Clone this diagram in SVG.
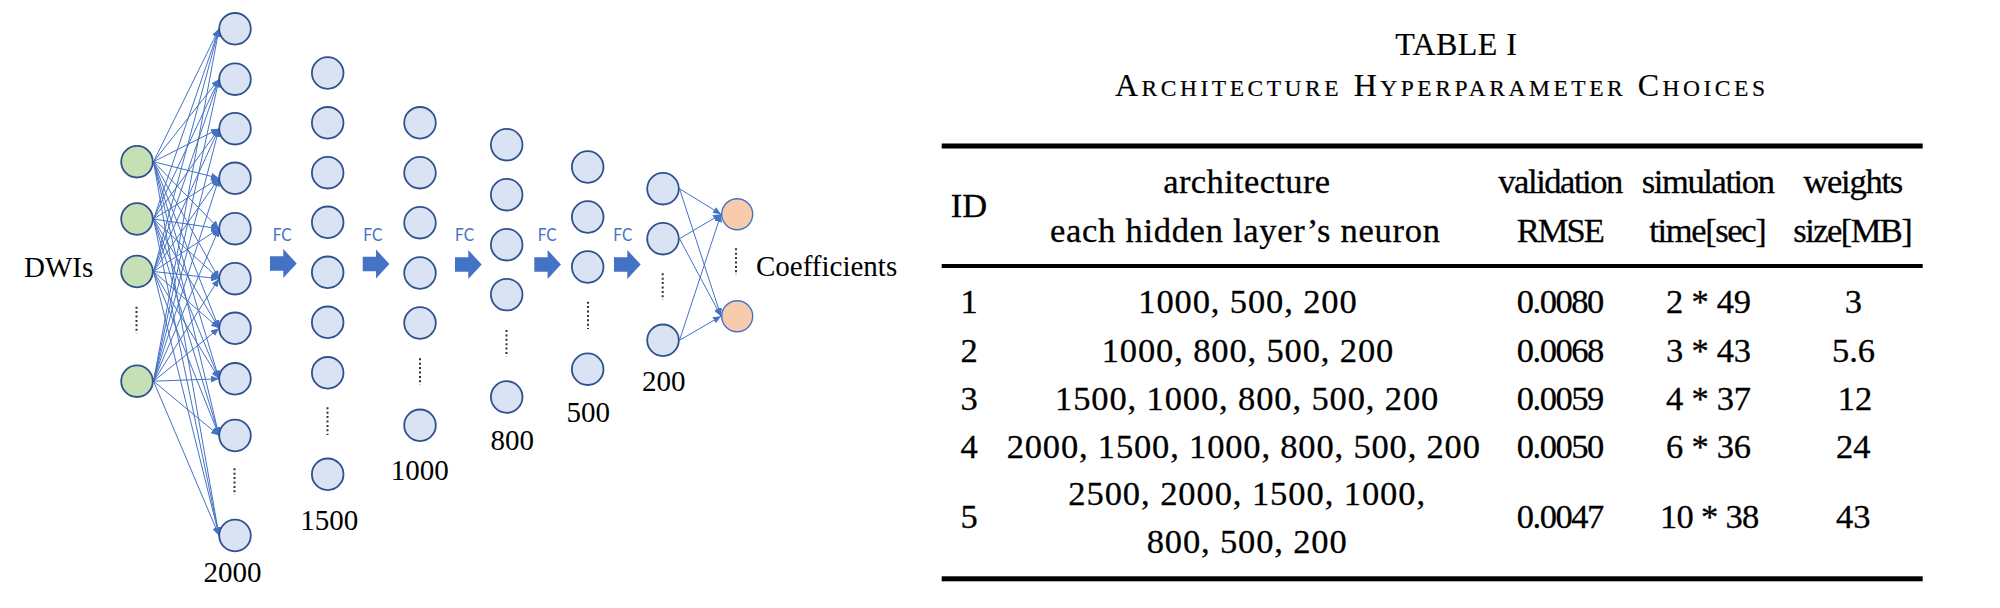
<svg xmlns="http://www.w3.org/2000/svg" width="2000" height="608" viewBox="0 0 2000 608">
<style>
.n{fill:#DAE3F3;stroke:#2F528F;stroke-width:1.8}
.g{fill:#C5E0B4;stroke:#2F528F;stroke-width:1.8}
.o{fill:#F8CBAD;stroke:#4472C4;stroke-width:1.4}
.c{stroke:#4472C4;stroke-width:1;fill:none;marker-end:url(#ah)}
.d{stroke:#333;stroke-width:2;stroke-dasharray:2 2.4;fill:none}
.lbl{font-family:"Liberation Serif","Times New Roman",serif;font-size:29px;fill:#000}
.num{text-anchor:middle}
.fc{font-family:Lato,"Open Sans",sans-serif;font-size:18px;fill:#4472C4}
.t{font-family:"Liberation Serif","Times New Roman",serif;font-size:34.5px;fill:#000;stroke:#000;stroke-width:0.3;text-anchor:middle}
.rule{fill:#000}
</style>
<defs>
<marker id="ah" viewBox="0 0 8 7" refX="8" refY="3.5" markerWidth="8" markerHeight="7" markerUnits="userSpaceOnUse" orient="auto"><path d="M0,0 L8,3.5 L0,7 Z" fill="#4472C4"/></marker>
<path id="blk" d="M0 7.3H13.3V0L26.7 14.5L13.3 29V21.7H0Z" fill="#4472C4"/>
</defs>
<rect width="2000" height="608" fill="#fff"/>

<g id="connectors">
<path class="c" d="M153.5 161.7L219 28.8"/><path class="c" d="M153.5 161.7L219 79.2"/><path class="c" d="M153.5 161.7L219 128.7"/><path class="c" d="M153.5 161.7L219 178.3"/><path class="c" d="M153.5 161.7L219 228.7"/><path class="c" d="M153.5 161.7L219 278.7"/><path class="c" d="M153.5 161.7L219 328.3"/><path class="c" d="M153.5 161.7L219 378.8"/><path class="c" d="M153.5 161.7L219 435.5"/><path class="c" d="M153.5 161.7L219 535.5"/>
<path class="c" d="M153.5 219L219 28.8"/><path class="c" d="M153.5 219L219 79.2"/><path class="c" d="M153.5 219L219 128.7"/><path class="c" d="M153.5 219L219 178.3"/><path class="c" d="M153.5 219L219 228.7"/><path class="c" d="M153.5 219L219 278.7"/><path class="c" d="M153.5 219L219 328.3"/><path class="c" d="M153.5 219L219 378.8"/><path class="c" d="M153.5 219L219 435.5"/><path class="c" d="M153.5 219L219 535.5"/>
<path class="c" d="M153.5 271.5L219 28.8"/><path class="c" d="M153.5 271.5L219 79.2"/><path class="c" d="M153.5 271.5L219 128.7"/><path class="c" d="M153.5 271.5L219 178.3"/><path class="c" d="M153.5 271.5L219 228.7"/><path class="c" d="M153.5 271.5L219 278.7"/><path class="c" d="M153.5 271.5L219 328.3"/><path class="c" d="M153.5 271.5L219 378.8"/><path class="c" d="M153.5 271.5L219 435.5"/><path class="c" d="M153.5 271.5L219 535.5"/>
<path class="c" d="M153.5 381.2L219 28.8"/><path class="c" d="M153.5 381.2L219 79.2"/><path class="c" d="M153.5 381.2L219 128.7"/><path class="c" d="M153.5 381.2L219 178.3"/><path class="c" d="M153.5 381.2L219 228.7"/><path class="c" d="M153.5 381.2L219 278.7"/><path class="c" d="M153.5 381.2L219 328.3"/><path class="c" d="M153.5 381.2L219 378.8"/><path class="c" d="M153.5 381.2L219 435.5"/><path class="c" d="M153.5 381.2L219 535.5"/>
<path class="c" d="M679.5 188.7L721 214.2"/><path class="c" d="M679.5 188.7L721 316.2"/>
<path class="c" d="M679.5 238.7L721 214.2"/><path class="c" d="M679.5 238.7L721 316.2"/>
<path class="c" d="M679.5 340.3L721 214.2"/><path class="c" d="M679.5 340.3L721 316.2"/>
</g>

<g id="fc-arrows">
<use href="#blk" x="270" y="249"/>
<use href="#blk" x="362.7" y="249.5"/>
<use href="#blk" x="455" y="250"/>
<use href="#blk" x="534.3" y="250"/>
<use href="#blk" x="614" y="250"/>
<text class="fc" x="272.7" y="240.5" textLength="19" lengthAdjust="spacingAndGlyphs">FC</text>
<text class="fc" x="363.3" y="240.5" textLength="19" lengthAdjust="spacingAndGlyphs">FC</text>
<text class="fc" x="455" y="240.5" textLength="19" lengthAdjust="spacingAndGlyphs">FC</text>
<text class="fc" x="537.7" y="240.5" textLength="19" lengthAdjust="spacingAndGlyphs">FC</text>
<text class="fc" x="613.3" y="240.5" textLength="19" lengthAdjust="spacingAndGlyphs">FC</text>
</g>

<g id="input-layer">
<g id="in-1"><circle class="g" cx="137" cy="161.7" r="15.8"/></g>
<g id="in-2"><circle class="g" cx="137" cy="219" r="15.8"/></g>
<g id="in-3"><circle class="g" cx="137" cy="271.5" r="15.8"/></g>
<g id="in-4"><circle class="g" cx="137" cy="381.2" r="15.8"/></g>
<path class="d" d="M136.5 306.7V333.3"/>
<text class="lbl" x="24" y="276.7">DWIs</text>
</g>

<g id="layer-2000">
<g id="h1-1"><circle class="n" cx="235" cy="28.8" r="15.8"/></g>
<g id="h1-2"><circle class="n" cx="235" cy="79.2" r="15.8"/></g>
<g id="h1-3"><circle class="n" cx="235" cy="128.7" r="15.8"/></g>
<g id="h1-4"><circle class="n" cx="235" cy="178.3" r="15.8"/></g>
<g id="h1-5"><circle class="n" cx="235" cy="228.7" r="15.8"/></g>
<g id="h1-6"><circle class="n" cx="235" cy="278.7" r="15.8"/></g>
<g id="h1-7"><circle class="n" cx="235" cy="328.3" r="15.8"/></g>
<g id="h1-8"><circle class="n" cx="235" cy="378.8" r="15.8"/></g>
<g id="h1-9"><circle class="n" cx="235" cy="435.5" r="15.8"/></g>
<g id="h1-10"><circle class="n" cx="235" cy="535.5" r="15.8"/></g>
<path class="d" d="M234.5 468.3V495"/>
<text class="lbl num" x="232.5" y="581.7">2000</text>
</g>

<g id="layer-1500">
<g id="h2-1"><circle class="n" cx="327.7" cy="73" r="15.8"/></g>
<g id="h2-2"><circle class="n" cx="327.7" cy="122.8" r="15.8"/></g>
<g id="h2-3"><circle class="n" cx="327.7" cy="172.7" r="15.8"/></g>
<g id="h2-4"><circle class="n" cx="327.7" cy="222.3" r="15.8"/></g>
<g id="h2-5"><circle class="n" cx="327.7" cy="272.3" r="15.8"/></g>
<g id="h2-6"><circle class="n" cx="327.7" cy="322.3" r="15.8"/></g>
<g id="h2-7"><circle class="n" cx="327.7" cy="372.8" r="15.8"/></g>
<g id="h2-8"><circle class="n" cx="327.7" cy="474.3" r="15.8"/></g>
<path class="d" d="M327.5 407.3V435"/>
<text class="lbl num" x="329.2" y="530">1500</text>
</g>

<g id="layer-1000">
<g id="h3-1"><circle class="n" cx="420" cy="122.8" r="15.8"/></g>
<g id="h3-2"><circle class="n" cx="420" cy="172.7" r="15.8"/></g>
<g id="h3-3"><circle class="n" cx="420" cy="222.7" r="15.8"/></g>
<g id="h3-4"><circle class="n" cx="420" cy="273" r="15.8"/></g>
<g id="h3-5"><circle class="n" cx="420" cy="323" r="15.8"/></g>
<g id="h3-6"><circle class="n" cx="420" cy="425.3" r="15.8"/></g>
<path class="d" d="M420 358.3V385"/>
<text class="lbl num" x="419.8" y="480">1000</text>
</g>

<g id="layer-800">
<g id="h4-1"><circle class="n" cx="506.7" cy="144.7" r="15.8"/></g>
<g id="h4-2"><circle class="n" cx="506.7" cy="194.7" r="15.8"/></g>
<g id="h4-3"><circle class="n" cx="506.7" cy="244.7" r="15.8"/></g>
<g id="h4-4"><circle class="n" cx="506.7" cy="294.6" r="15.8"/></g>
<g id="h4-5"><circle class="n" cx="506.7" cy="397" r="15.8"/></g>
<path class="d" d="M506.5 330V356.7"/>
<text class="lbl num" x="512.2" y="450">800</text>
</g>

<g id="layer-500">
<g id="h5-1"><circle class="n" cx="587.7" cy="167" r="15.8"/></g>
<g id="h5-2"><circle class="n" cx="587.7" cy="217" r="15.8"/></g>
<g id="h5-3"><circle class="n" cx="587.7" cy="267" r="15.8"/></g>
<g id="h5-4"><circle class="n" cx="587.7" cy="369.2" r="15.8"/></g>
<path class="d" d="M588 301.7V329"/>
<text class="lbl num" x="588.3" y="421.7">500</text>
</g>

<g id="layer-200">
<g id="h6-1"><circle class="n" cx="663" cy="188.7" r="15.8"/></g>
<g id="h6-2"><circle class="n" cx="663" cy="238.7" r="15.8"/></g>
<g id="h6-3"><circle class="n" cx="663" cy="340.3" r="15.8"/></g>
<path class="d" d="M662.7 273.3V300"/>
<text class="lbl num" x="663.7" y="390.7">200</text>
</g>

<g id="output-layer">
<g id="out-1"><circle class="o" cx="737.2" cy="214.2" r="15.5"/></g>
<g id="out-2"><circle class="o" cx="737.2" cy="316.2" r="15.5"/></g>
<path class="d" d="M736 248.3V275"/>
<text class="lbl" x="756" y="276">Coefficients</text>
</g>

<g id="table">
<text class="t" x="1456" y="55" style="font-size:32px;stroke-width:0.2" textLength="121.7" lengthAdjust="spacing">TABLE I</text>
<text class="t" x="1440" y="96" style="font-size:32px;stroke-width:0.2" textLength="650" lengthAdjust="spacing">A<tspan style="font-size:23.5px">RCHITECTURE</tspan> H<tspan style="font-size:23.5px">YPERPARAMETER</tspan> C<tspan style="font-size:23.5px">HOICES</tspan></text>

<rect class="rule" x="941.7" y="143.5" width="981" height="5"/>
<rect class="rule" x="941.7" y="264" width="981" height="4"/>
<rect class="rule" x="941.7" y="576.3" width="981" height="5"/>

<text class="t" x="969" y="216.7">ID</text>
<text class="t" x="1246.7" y="193.3" textLength="166.7" lengthAdjust="spacing">architecture</text>
<text class="t" x="1245" y="241.7" textLength="390" lengthAdjust="spacing">each hidden layer’s neuron</text>
<text class="t" x="1560.8" y="193.3" textLength="125" lengthAdjust="spacing">validation</text>
<text class="t" x="1560.8" y="241.7" textLength="88.3" lengthAdjust="spacing">RMSE</text>
<text class="t" x="1708.3" y="193.3" textLength="133.3" lengthAdjust="spacing">simulation</text>
<text class="t" x="1708" y="241.7" textLength="117.4" lengthAdjust="spacing">time[sec]</text>
<text class="t" x="1853.3" y="193.3" textLength="100" lengthAdjust="spacing">weights</text>
<text class="t" x="1853" y="241.7" textLength="119.4" lengthAdjust="spacing">size[MB]</text>

<text class="t" x="969" y="313.3">1</text>
<text class="t" x="1247.5" y="313.3" textLength="218.3" lengthAdjust="spacing">1000, 500, 200</text>
<text class="t" x="1560.5" y="313.3" textLength="87.7" lengthAdjust="spacing">0.0080</text>
<text class="t" x="1708.5" y="313.3" textLength="85" lengthAdjust="spacing">2 * 49</text>
<text class="t" x="1853.3" y="313.3">3</text>

<text class="t" x="969" y="361.7">2</text>
<text class="t" x="1247.5" y="361.7" textLength="291.7" lengthAdjust="spacing">1000, 800, 500, 200</text>
<text class="t" x="1560.5" y="361.7" textLength="87.7" lengthAdjust="spacing">0.0068</text>
<text class="t" x="1708.5" y="361.7" textLength="85" lengthAdjust="spacing">3 * 43</text>
<text class="t" x="1853.5" y="361.7">5.6</text>

<text class="t" x="969" y="410">3</text>
<text class="t" x="1246.7" y="410" textLength="383.3" lengthAdjust="spacing">1500, 1000, 800, 500, 200</text>
<text class="t" x="1560.5" y="410" textLength="87.7" lengthAdjust="spacing">0.0059</text>
<text class="t" x="1708.5" y="410" textLength="85" lengthAdjust="spacing">4 * 37</text>
<text class="t" x="1855" y="410">12</text>

<text class="t" x="969" y="458.3">4</text>
<text class="t" x="1243.3" y="458.3" textLength="473.3" lengthAdjust="spacing">2000, 1500, 1000, 800, 500, 200</text>
<text class="t" x="1560.5" y="458.3" textLength="87.7" lengthAdjust="spacing">0.0050</text>
<text class="t" x="1708.5" y="458.3" textLength="85" lengthAdjust="spacing">6 * 36</text>
<text class="t" x="1853.3" y="458.3">24</text>

<text class="t" x="969" y="528.3">5</text>
<text class="t" x="1246.7" y="505" textLength="356.7" lengthAdjust="spacing">2500, 2000, 1500, 1000,</text>
<text class="t" x="1246.7" y="553.3" textLength="200" lengthAdjust="spacing">800, 500, 200</text>
<text class="t" x="1560.5" y="528.3" textLength="87.7" lengthAdjust="spacing">0.0047</text>
<text class="t" x="1709.7" y="528.3" textLength="99.3" lengthAdjust="spacing">10 * 38</text>
<text class="t" x="1853.3" y="528.3">43</text>
</g>
</svg>
